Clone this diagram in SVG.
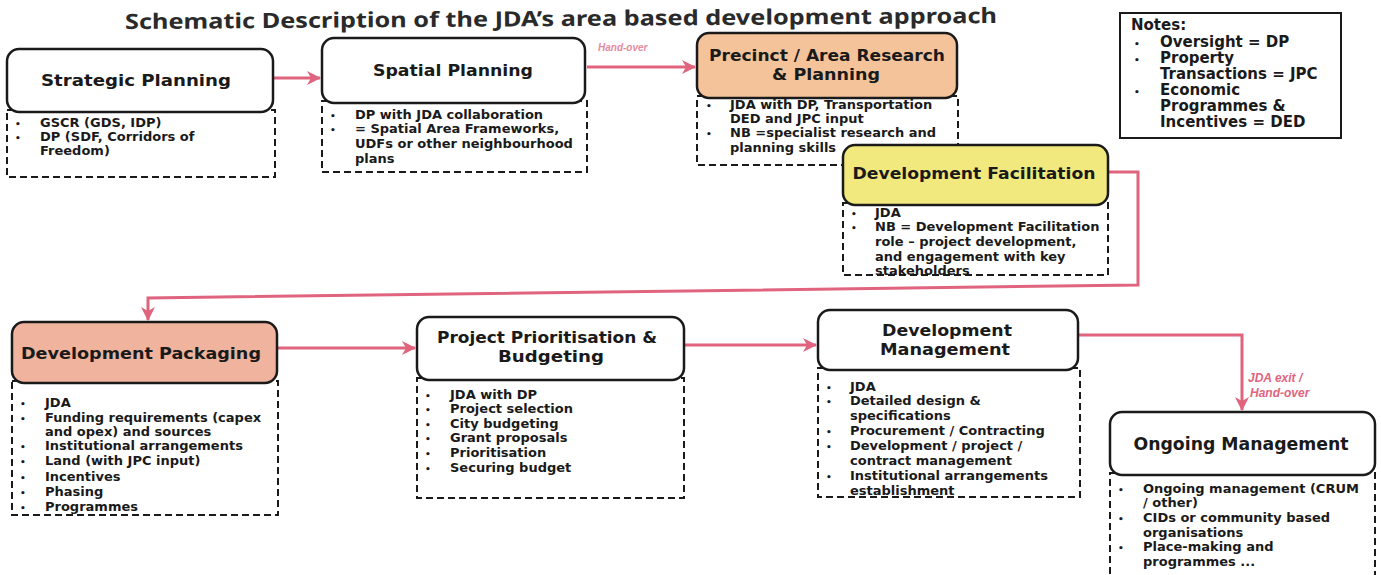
<svg xmlns="http://www.w3.org/2000/svg" width="1381" height="575" viewBox="0 0 1381 575">
  <defs>
    <marker id="arrow" markerUnits="userSpaceOnUse" markerWidth="16" markerHeight="16" refX="13" refY="7" orient="auto">
      <path d="M0,0 L14,7 L0,14 L4,7 Z" fill="#e0647e"/>
    </marker>
    <style>
      .head { fill: #ffffff; stroke: #1a1a1a; stroke-width: 2.5; }
      .list { fill: #ffffff; stroke: #1a1a1a; stroke-width: 2; stroke-dasharray: 7 4; }
      .notes { fill: #ffffff; stroke: #1a1a1a; stroke-width: 2; }
      .h { font-family: "DejaVu Sans", "Liberation Sans", sans-serif; font-weight: bold; font-size: 16px; fill: #1a1a1a; text-anchor: middle; }
      .t { font-family: "DejaVu Sans", "Liberation Sans", sans-serif; font-weight: bold; font-size: 13px; fill: #1a1a1a; }
      .n { font-family: "DejaVu Sans", "Liberation Sans", sans-serif; font-weight: bold; font-size: 15px; fill: #1a1a1a; }
      .b { font-family: "DejaVu Sans", sans-serif; font-weight: bold; font-size: 9px; fill: #1a1a1a; }
      .conn path { fill: none; stroke: #e0647e; stroke-width: 3; }
      .lbl { font-family: "Liberation Sans", Arial, sans-serif; font-style: italic; font-weight: bold; fill: #e0647e; }
      .title { font-family: "Noto Sans", "Open Sans", sans-serif; font-weight: bold; font-size: 21px; fill: #2a2a2a; }
    </style>
  </defs>

  <rect width="1381" height="575" fill="#ffffff"/>

  <!-- heading -->
  <text class="title" x="125" y="26" textLength="872" lengthAdjust="spacingAndGlyphs" transform="rotate(-0.4 561 20)">Schematic Description of the JDA’s area based development approach</text>

  <!-- connectors -->
  <g id="connectors" class="conn">
    <path d="M273,78 H320" marker-end="url(#arrow)"/>
    <path d="M587,67 H695" marker-end="url(#arrow)"/>
    <path d="M1108,172 H1138 V285 L148,298 V320" marker-end="url(#arrow)"/>
    <path d="M277,348 H415" marker-end="url(#arrow)"/>
    <path d="M684,345 H816" marker-end="url(#arrow)"/>
    <path d="M1078,335 H1242 V410" marker-end="url(#arrow)"/>
    <text class="lbl" x="598" y="51" font-size="10" font-weight="normal" opacity="0.75">Hand-over</text>
    <text class="lbl" x="1248" y="382" font-size="12">JDA exit /</text>
    <text class="lbl" x="1250" y="397" font-size="12">Hand-over</text>
  </g>

  <!-- Strategic Planning -->
  <g id="strategic-planning">
    <rect class="list" x="7" y="110" width="268" height="67"/>
    <rect class="head" x="7" y="49" width="266" height="63" rx="12"/>
    <text class="h" x="136" y="86" textLength="190" lengthAdjust="spacingAndGlyphs">Strategic Planning</text>
    <text class="b" x="15" y="127">•</text>
    <text class="b" x="15" y="141">•</text>
    <text class="t" x="40" y="127">GSCR (GDS, IDP)</text>
    <text class="t" x="40" y="141">DP (SDF, Corridors of</text>
    <text class="t" x="40" y="155">Freedom)</text>
  </g>

  <!-- Spatial Planning -->
  <g id="spatial-planning">
    <rect class="list" x="322" y="101" width="265" height="71"/>
    <rect class="head" x="322" y="38" width="263" height="65" rx="12"/>
    <text class="h" x="453" y="76" textLength="160" lengthAdjust="spacingAndGlyphs">Spatial Planning</text>
    <text class="b" x="330" y="119">•</text>
    <text class="b" x="330" y="133">•</text>
    <text class="t" x="355" y="119">DP with JDA collaboration</text>
    <text class="t" x="355" y="133">= Spatial Area Frameworks,</text>
    <text class="t" x="355" y="148">UDFs or other neighbourhood</text>
    <text class="t" x="355" y="163">plans</text>
  </g>

  <!-- Precinct / Area Research & Planning -->
  <g id="precinct-research">
    <rect class="list" x="697" y="96" width="261" height="69"/>
    <rect class="head" x="697" y="33" width="260" height="65" rx="12" style="fill:#f4c39a"/>
    <text class="h" x="827" y="61" textLength="236" lengthAdjust="spacingAndGlyphs">Precinct / Area Research</text>
    <text class="h" x="826" y="80" textLength="108" lengthAdjust="spacingAndGlyphs">&amp; Planning</text>
    <text class="b" x="706" y="109">•</text>
    <text class="b" x="706" y="137">•</text>
    <text class="t" x="730" y="109">JDA with DP, Transportation</text>
    <text class="t" x="730" y="123">DED and JPC input</text>
    <text class="t" x="730" y="137">NB =specialist research and</text>
    <text class="t" x="730" y="152">planning skills</text>
  </g>

  <!-- Notes -->
  <g id="notes">
    <rect class="notes" x="1120" y="13" width="221" height="125"/>
    <text class="n" x="1131" y="30">Notes:</text>
    <text class="b" x="1134" y="47">•</text>
    <text class="b" x="1134" y="63">•</text>
    <text class="b" x="1134" y="95">•</text>
    <text class="n" x="1160" y="47">Oversight = DP</text>
    <text class="n" x="1160" y="63">Property</text>
    <text class="n" x="1160" y="79">Transactions = JPC</text>
    <text class="n" x="1160" y="95">Economic</text>
    <text class="n" x="1160" y="111">Programmes &amp;</text>
    <text class="n" x="1160" y="127">Incentives = DED</text>
  </g>

  <!-- Development Facilitation -->
  <g id="development-facilitation">
    <rect class="list" x="843" y="203" width="265" height="72"/>
    <rect class="head" x="843" y="145" width="265" height="60" rx="12" style="fill:#f2e97e"/>
    <text class="h" x="974" y="179" textLength="243" lengthAdjust="spacingAndGlyphs">Development Facilitation</text>
    <text class="b" x="851" y="217">•</text>
    <text class="b" x="851" y="231">•</text>
    <text class="t" x="875" y="217">JDA</text>
    <text class="t" x="875" y="231">NB = Development Facilitation</text>
    <text class="t" x="875" y="246">role – project development,</text>
    <text class="t" x="875" y="261">and engagement with key</text>
    <text class="t" x="875" y="275">stakeholders</text>
  </g>

  <!-- Development Packaging -->
  <g id="development-packaging">
    <rect class="list" x="12" y="381" width="266" height="134"/>
    <rect class="head" x="12" y="322" width="265" height="61" rx="12" style="fill:#f0b49e"/>
    <text class="h" x="141" y="359" textLength="240" lengthAdjust="spacingAndGlyphs">Development Packaging</text>
    <text class="b" x="20" y="407">•</text>
    <text class="b" x="20" y="422">•</text>
    <text class="b" x="20" y="450">•</text>
    <text class="b" x="20" y="465">•</text>
    <text class="b" x="20" y="481">•</text>
    <text class="b" x="20" y="496">•</text>
    <text class="b" x="20" y="511">•</text>
    <text class="t" x="45" y="407">JDA</text>
    <text class="t" x="45" y="422">Funding requirements (capex</text>
    <text class="t" x="45" y="436">and opex) and sources</text>
    <text class="t" x="45" y="450">Institutional arrangements</text>
    <text class="t" x="45" y="465">Land (with JPC input)</text>
    <text class="t" x="45" y="481">Incentives</text>
    <text class="t" x="45" y="496">Phasing</text>
    <text class="t" x="45" y="511">Programmes</text>
  </g>

  <!-- Project Prioritisation & Budgeting -->
  <g id="project-prioritisation">
    <rect class="list" x="417" y="378" width="267" height="120"/>
    <rect class="head" x="417" y="317" width="267" height="63" rx="12"/>
    <text class="h" x="547" y="343" textLength="220" lengthAdjust="spacingAndGlyphs">Project Prioritisation &amp;</text>
    <text class="h" x="551" y="362" textLength="106" lengthAdjust="spacingAndGlyphs">Budgeting</text>
    <text class="b" x="425" y="399">•</text>
    <text class="b" x="425" y="413">•</text>
    <text class="b" x="425" y="428">•</text>
    <text class="b" x="425" y="442">•</text>
    <text class="b" x="425" y="457">•</text>
    <text class="b" x="425" y="472">•</text>
    <text class="t" x="450" y="399">JDA with DP</text>
    <text class="t" x="450" y="413">Project selection</text>
    <text class="t" x="450" y="428">City budgeting</text>
    <text class="t" x="450" y="442">Grant proposals</text>
    <text class="t" x="450" y="457">Prioritisation</text>
    <text class="t" x="450" y="472">Securing budget</text>
  </g>

  <!-- Development Management -->
  <g id="development-management">
    <rect class="list" x="818" y="368" width="262" height="129"/>
    <rect class="head" x="818" y="310" width="260" height="60" rx="12"/>
    <text class="h" x="947" y="336" textLength="130" lengthAdjust="spacingAndGlyphs">Development</text>
    <text class="h" x="945" y="355" textLength="130" lengthAdjust="spacingAndGlyphs">Management</text>
    <text class="b" x="826" y="391">•</text>
    <text class="b" x="826" y="405">•</text>
    <text class="b" x="826" y="435">•</text>
    <text class="b" x="826" y="450">•</text>
    <text class="b" x="826" y="480">•</text>
    <text class="t" x="850" y="391">JDA</text>
    <text class="t" x="850" y="405">Detailed design &amp;</text>
    <text class="t" x="850" y="420">specifications</text>
    <text class="t" x="850" y="435">Procurement / Contracting</text>
    <text class="t" x="850" y="450">Development / project /</text>
    <text class="t" x="850" y="465">contract management</text>
    <text class="t" x="850" y="480">Institutional arrangements</text>
    <text class="t" x="850" y="495">establishment</text>
  </g>

  <!-- Ongoing Management -->
  <g id="ongoing-management">
    <rect class="list" x="1110" y="473" width="265" height="110"/>
    <rect class="head" x="1110" y="412" width="265" height="63" rx="12"/>
    <text class="h" x="1241" y="450" style="font-size:17px" textLength="215" lengthAdjust="spacingAndGlyphs">Ongoing Management</text>
    <text class="b" x="1118" y="493">•</text>
    <text class="b" x="1118" y="522">•</text>
    <text class="b" x="1118" y="551">•</text>
    <text class="t" x="1143" y="493">Ongoing management (CRUM</text>
    <text class="t" x="1143" y="507">/ other)</text>
    <text class="t" x="1143" y="522">CIDs or community based</text>
    <text class="t" x="1143" y="537">organisations</text>
    <text class="t" x="1143" y="551">Place-making and</text>
    <text class="t" x="1143" y="566">programmes ...</text>
  </g>
</svg>
